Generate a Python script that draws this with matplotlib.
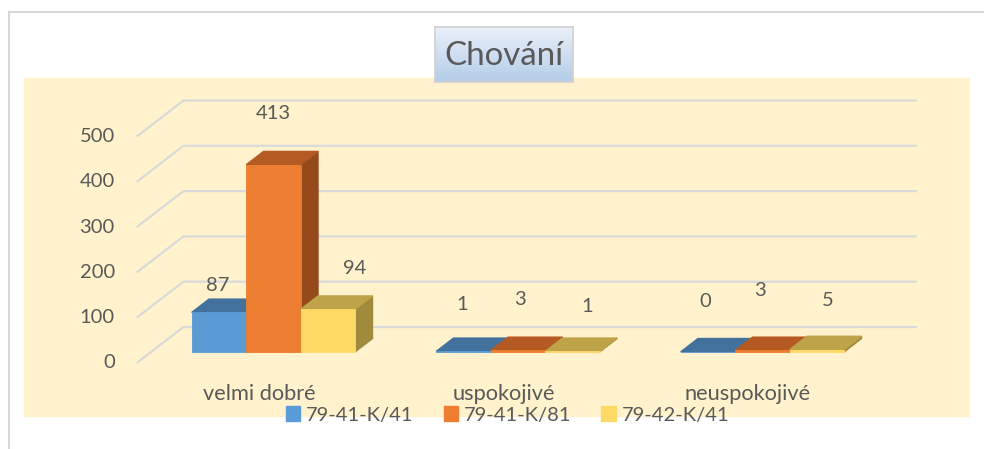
import numpy as np
import matplotlib.pyplot as plt
from matplotlib.patches import Polygon, Rectangle, Patch
from matplotlib.lines import Line2D

plt.rcParams['font.family'] = ['Lato', 'DejaVu Sans']

categories = ["velmi dobré", "uspokojivé", "neuspokojivé"]
series = ["79-41-K/41", "79-41-K/81", "79-42-K/41"]
k4141 = [87, 1, 0]
k4181 = [413, 3, 3]
k4241 = [94, 1, 5]
yticks = [0, 100, 200, 300, 400, 500]

values = [k4141, k4181, k4241]
front_c = ["#5b9bd5", "#ed7d31", "#ffd966"]
top_c = ["#41719c", "#b45a22", "#bfa349"]
side_c = ["#3a6690", "#954a1c", "#a08a3c"]
grey = "#595959"

# label nudges in pixels, [series][category]
lab_dx = [[-10, -10, -11], [-9, -7, -11], [18, 6, 2]]
lab_dy = [[20, 40, 44], [45, 44, 53], [34, 38, 42]]

W, H = 984, 449
fig = plt.figure(figsize=(W / 100, H / 100), dpi=100)

# outer frame + plot area background
fig.add_artist(Line2D([9 / W, 1], [1 - 12 / H, 1 - 12 / H], color="#d9d9d9", lw=1.5))
fig.add_artist(Line2D([9 / W, 9 / W], [0, 1 - 12 / H], color="#d9d9d9", lw=1.5))
fig.add_artist(Rectangle((24 / W, 1 - 415.7 / H), 945 / W, 337.7 / H,
                         transform=fig.transFigure, color="#fff2cc", zorder=0))

ax = fig.add_axes([0, 0, 1, 1])
ax.set_xlim(-259 / 244.5, (W - 259) / 244.5)
ax.set_ylim(-86 / 0.453, (H - 86) / 0.453)
ax.axis("off")
ax.patch.set_alpha(0)

# fake depth: z=0 front wall, z=1 back wall
DX = 46.7 / 244.5
DY = 36 / 0.453


def P(x, v, z):
    return (x + z * DX, v + z * DY)


for v in yticks:
    pts = [P(-0.5, v, 0), P(-0.5, v, 1), P(2.5, v, 1)]
    ax.plot([p[0] for p in pts], [p[1] for p in pts], color="#d9d9d9", lw=1.6, zorder=1,
            solid_capstyle="butt")
    ax.annotate(str(v), xy=P(-0.5, v, 0), xytext=(-22, 0), textcoords="offset pixels",
                ha="right", va="center", fontsize=14.5, color=grey)

bw = 54.5 / 244.5
zf, zb = 0.31, 0.68
zm = (zf + zb) / 2
z = 2
for i in range(len(categories)):
    for j in range(len(series)):
        v = values[j][i]
        xl = i + (j - 1.5) * bw
        xr = xl + bw
        ax.add_patch(Polygon([P(xr, 0, zf), P(xr, v, zf), P(xr, v, zb), P(xr, 0, zb)],
                             closed=True, color=side_c[j], zorder=z))
        ax.add_patch(Polygon([P(xl, v, zf), P(xr, v, zf), P(xr, v, zb), P(xl, v, zb)],
                             closed=True, color=top_c[j], zorder=z + 1))
        ax.bar(xl + zf * DX, v, width=bw, bottom=zf * DY, align="edge",
               color=front_c[j], edgecolor=front_c[j], lw=0.6, zorder=z + 2)
        z += 3
        cx, cy = P(xl + bw / 2, v, zm)
        ax.annotate(str(v), xy=(cx, cy), xytext=(lab_dx[j][i], lab_dy[j][i]),
                    textcoords="offset pixels", ha="center", va="center",
                    fontsize=14.5, color=grey, zorder=100)
    ax.annotate(categories[i], xy=(i, 0), xytext=(0, -36.5), textcoords="offset pixels",
                ha="center", va="baseline", fontsize=15.7, color=grey)

# title box with soft blue gradient
tax = fig.add_axes([435 / W, 1 - 82 / H, 137.7 / W, 55 / H])
grad = np.linspace(0, 1, 64).reshape(-1, 1)
top_rgb = np.array([0xea, 0xf1, 0xfa]) / 255
bot_rgb = np.array([0xb4, 0xcd, 0xe8]) / 255
img = top_rgb + grad[..., None] * (bot_rgb - top_rgb)
tax.imshow(img, aspect="auto", extent=(0, 1, 0, 1))
tax.set_xticks([])
tax.set_yticks([])
for s in tax.spines.values():
    s.set_color("#d0d0d0")
    s.set_linewidth(1.2)
tax.text(0.5, 0.47, "Chování", ha="center", va="center", fontsize=23.8, color=grey,
         transform=tax.transAxes)

handles = [Patch(facecolor=c, edgecolor=c) for c in front_c]
fig.legend(handles, series, loc="center", bbox_to_anchor=(507.5 / W, 1 - 415 / H),
           ncol=3, frameon=False, fontsize=14.5, labelcolor=grey,
           handlelength=0.7, handleheight=0.7, handletextpad=0.3, columnspacing=1.5)

fig.savefig("out.png", dpi=100)
